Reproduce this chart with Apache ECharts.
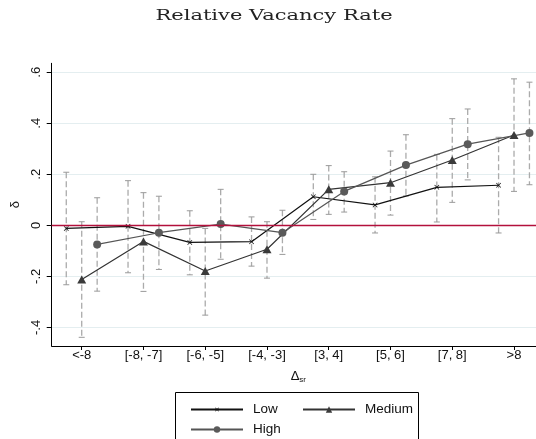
<!DOCTYPE html>
<html>
<head>
<meta charset="utf-8">
<script src="https://cdn.jsdelivr.net/npm/echarts@6.0.0/dist/echarts.min.js"></script>
<style>
    html, body { margin: 0; padding: 0; background: #fff; }
    #chart { width: 536px; height: 439px; }
</style>
</head>
<body>
<div id="chart"></div>
<script>
    // categories of the x axis
    var cats = ['<-8', '[-8, -7]', '[-6, -5]', '[-4, -3]', '[3, 4]', '[5, 6]', '[7, 8]', '>8'];
    var yTicks = [-0.4, -0.2, 0, 0.2, 0.4, 0.6];
    var yTickLabels = ['-.4', '-.2', '0', '.2', '.4', '.6'];

    // point estimates and confidence bounds
    var lowEst  = [-0.012, -0.004, -0.067, -0.064, 0.112, 0.080, 0.149, 0.157];
    var lowLo   = [-0.233, -0.186, -0.194, -0.160, 0.023, -0.030, 0.013, -0.030];
    var lowHi   = [0.208, 0.175, 0.057, 0.033, 0.200, 0.190, 0.278, 0.345];

    var medEst  = [-0.212, -0.063, -0.179, -0.094, 0.141, 0.167, 0.256, 0.354];
    var medLo   = [-0.439, -0.259, -0.352, -0.207, 0.043, 0.040, 0.090, 0.133];
    var medHi   = [0.014, 0.128, -0.012, 0.014, 0.234, 0.291, 0.418, 0.574];

    var highEst = [-0.075, -0.029, 0.005, -0.029, 0.133, 0.236, 0.318, 0.362];
    var highLo  = [-0.258, -0.173, -0.133, -0.114, 0.052, 0.115, 0.178, 0.159];
    var highHi  = [0.108, 0.114, 0.141, 0.059, 0.210, 0.355, 0.456, 0.561];

    var shift = { low: -0.25, med: 0, high: 0.25 };
    var font = '"Liberation Sans", Arial, sans-serif';

    function points(est, dx) {
        return est.map(function (v, i) { return [i + dx, v]; });
    }

    // rows [x, lo, hi] for the whisker series
    var bars = [];
    function addBars(lo, hi, dx) {
        for (var i = 0; i < lo.length; i++) {
            bars.push([i + dx, lo[i], hi[i]]);
        }
    }
    addBars(lowLo, lowHi, shift.low);
    addBars(medLo, medHi, shift.med);
    addBars(highLo, highHi, shift.high);

    function renderBar(params, api) {
        var top = api.coord([api.value(0), api.value(2)]);
        var bot = api.coord([api.value(0), api.value(1)]);
        var cap = 3;
        return {
            type: 'group',
            children: [
                {
                    type: 'line',
                    shape: { x1: top[0], y1: top[1], x2: bot[0], y2: bot[1] },
                    style: { stroke: '#ababab', lineWidth: 1.3, lineDash: [6, 3] }
                },
                {
                    type: 'line',
                    shape: { x1: top[0] - cap, y1: top[1], x2: top[0] + cap, y2: top[1] },
                    style: { stroke: '#9a9a9a', lineWidth: 1 }
                },
                {
                    type: 'line',
                    shape: { x1: bot[0] - cap, y1: bot[1], x2: bot[0] + cap, y2: bot[1] },
                    style: { stroke: '#9a9a9a', lineWidth: 1 }
                }
            ]
        };
    }

    var crossPath = 'path://M0,1L1,0L5,4L9,0L10,1L6,5L10,9L9,10L5,6L1,10L0,9L4,5Z';
    var legendText = { fontSize: 13.5, color: '#111', fontFamily: font, padding: [0, 0, 0, 5] };

    var chart = echarts.init(document.getElementById('chart'));
    var option = {
        animation: false,
        backgroundColor: '#fff',
        textStyle: { fontFamily: font },
        grid: { left: 51.7, right: 0, top: 63.3, bottom: 93 },
        xAxis: {
            type: 'value',
            min: -0.486,
            max: 7.356,
            name: '{d|Δ}{s|sr}',
            nameLocation: 'middle',
            nameGap: 22,
            nameTextStyle: {
                padding: [0, 0, 0, 9],
                rich: {
                    d: { fontSize: 13, fontFamily: font, color: '#111', lineHeight: 16 },
                    s: { fontSize: 8, fontFamily: font, color: '#111', lineHeight: 8, verticalAlign: 'bottom' }
                }
            },
            axisLine: { show: true, onZero: false, lineStyle: { color: '#000', width: 1 } },
            axisTick: { show: true, length: 4, customValues: [0, 1, 2, 3, 4, 5, 6, 7], lineStyle: { color: '#000' } },
            axisLabel: {
                customValues: [0, 1, 2, 3, 4, 5, 6, 7],
                formatter: function (v) { return cats[Math.round(v)]; },
                fontSize: 13, color: '#111', margin: 3, fontFamily: font
            },
            splitLine: { show: false }
        },
        yAxis: {
            type: 'value',
            min: -0.473,
            max: 0.635,
            name: 'δ',
            nameLocation: 'middle',
            nameRotate: 90,
            nameGap: 30,
            nameTextStyle: { fontSize: 13, color: '#111', fontFamily: font },
            axisLine: { show: true, onZero: false, lineStyle: { color: '#000', width: 1 } },
            axisTick: { show: true, length: 5, customValues: yTicks, lineStyle: { color: '#000' } },
            axisLabel: {
                customValues: yTicks,
                rotate: 90,
                formatter: function (v) {
                    var i = yTicks.indexOf(Math.round(v * 10) / 10);
                    return i >= 0 ? yTickLabels[i] : '';
                },
                fontSize: 13, color: '#111', margin: 9, fontFamily: font
            },
            splitLine: { show: true, lineStyle: { color: '#e4eef0', width: 1 } }
        },
        legend: [
            { data: ['Low'], left: 185, top: 397.5, itemWidth: 52, itemHeight: 5, textStyle: legendText },
            { data: ['Medium'], left: 297, top: 397.5, itemWidth: 52, itemHeight: 8, textStyle: legendText },
            { data: ['High'], left: 185, top: 417.5, itemWidth: 52, itemHeight: 8, textStyle: legendText }
        ],
        graphic: [
            {
                type: 'text', x: 274, y: 16, scaleX: 1.4,
                style: {
                    text: 'Relative Vacancy Rate', x: 0, y: 0,
                    font: '15px "DejaVu Serif", serif', fill: '#222',
                    textAlign: 'center', textVerticalAlign: 'middle'
                }
            },
            {
                type: 'rect',
                shape: { x: 175.5, y: 392.5, width: 243, height: 70 },
                style: { fill: 'none', stroke: '#000', lineWidth: 1 }
            }
        ],
        series: [
            {
                name: 'ci',
                type: 'custom',
                renderItem: renderBar,
                data: bars,
                encode: { x: 0, y: [1, 2] },
                z: 1,
                silent: true,
                markLine: {
                    silent: true,
                    symbol: 'none',
                    label: { show: false },
                    lineStyle: { color: '#b3103c', type: 'solid', width: 1.3 },
                    data: [{ yAxis: 0 }]
                }
            },
            {
                name: 'Low',
                type: 'line',
                data: points(lowEst, shift.low),
                symbol: crossPath,
                symbolSize: 5,
                z: 3,
                lineStyle: { color: '#111', width: 1.2 },
                itemStyle: { color: '#111' }
            },
            {
                name: 'Medium',
                type: 'line',
                data: points(medEst, shift.med),
                symbol: 'triangle',
                symbolSize: [9, 8],
                z: 3,
                lineStyle: { color: '#333', width: 1.2 },
                itemStyle: { color: '#3a3a3a' }
            },
            {
                name: 'High',
                type: 'line',
                data: points(highEst, shift.high),
                symbol: 'circle',
                symbolSize: 8,
                z: 3,
                lineStyle: { color: '#555', width: 1.2 },
                itemStyle: { color: '#5a5a5a' }
            }
        ]
    };
    chart.setOption(option);
</script>
</body>
</html>
